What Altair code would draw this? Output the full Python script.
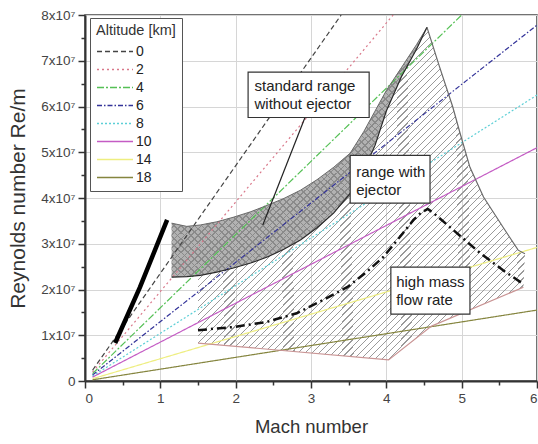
import altair as alt
import pandas as pd

FONT = "Liberation Sans"

# ---------------- data (Re/m in units of 1e7) ----------------
alt_km = ["0", "2", "4", "6", "8", "10", "14", "18"]
alt_m_start = [0.1, 0.1, 0.1, 0.1, 0.1, 0.1, 0.1, 0.1]
alt_re_start = [0.235, 0.195, 0.16, 0.13, 0.105, 0.085, 0.049, 0.026]
alt_m_end = [3.4, 4.09, 5.0, 6.0, 6.0, 6.0, 6.0, 6.0]
alt_re_end = [8.0, 8.0, 8.0, 7.78, 6.25, 5.1, 2.92, 1.55]

# standard range without ejector (grey band)
gray_m = [1.15, 1.35, 1.53, 1.75, 1.97, 2.2, 2.42, 2.64, 2.86, 3.08, 3.30, 3.52, 3.70, 3.85, 4.0, 4.2, 4.4, 4.54]
gray_top = [3.45, 3.38, 3.41, 3.48, 3.58, 3.70, 3.84, 3.99, 4.17, 4.40, 4.67, 4.98, 5.45, 5.90, 6.35, 6.85, 7.35, 7.73]
gray_bot = [2.27, 2.28, 2.31, 2.38, 2.47, 2.58, 2.71, 2.88, 3.08, 3.35, 3.67, 4.10, 4.60, 5.15, 5.90, 6.65, 7.25, 7.73]

# range with ejector (hatched)
ej_bottom_m = [1.5, 4.03, 4.6, 5.82]
ej_bottom_re = [0.83, 0.46, 1.2, 2.05]
ej_right_m = [5.84, 5.75, 5.55, 5.29, 5.11, 4.98, 4.88, 4.7, 4.54]
ej_right_re = [2.78, 2.86, 3.36, 4.02, 4.67, 5.41, 6.0, 6.9, 7.73]
ej_corner_m = [1.5]
ej_corner_re = [2.30]

# thick black line
black_m = [0.4, 0.73, 1.09]
black_re = [0.83, 2.05, 3.52]

# high mass flow rate (dash-dot)
hmf_m = [1.5, 1.97, 2.41, 2.81, 3.16, 3.48, 3.75, 3.96, 4.22, 4.36, 4.46, 4.55, 4.62, 4.89, 5.25, 5.55, 5.8]
hmf_re = [1.11, 1.18, 1.29, 1.48, 1.77, 2.05, 2.40, 2.71, 3.23, 3.52, 3.68, 3.76, 3.68, 3.30, 2.79, 2.42, 2.14]

# annotation boxes
box_m1 = [2.165, 3.52, 4.06]
box_m2 = [3.772, 4.58, 5.11]
box_re1 = [6.75, 4.93, 2.49]
box_re2 = [5.76, 3.89, 1.46]
text_lines = ["standard range", "without ejector", "range with", "ejector", "high mass", "flow rate"]
text_m = [2.25, 2.25, 3.60, 3.60, 4.13, 4.13]
text_re = [6.44, 6.05, 4.56, 4.17, 2.16, 1.77]
ptr_m = [2.92, 2.36]
ptr_re = [5.76, 3.41]

# ---------------- styles ----------------
alt_colors = ["#444444", "#d9788a", "#55c055", "#333399", "#5ccfd6", "#c45cc4", "#eeee80", "#85853f"]
alt_dash = [[5, 3], [2, 3], [7, 2, 2, 2], [5, 2, 1.5, 2], [2, 2], [1, 0], [1, 0], [1, 0]]


def stripes(n, frac, color, x1, y1, x2, y2):
    clear = "rgba(255,255,255,0)"
    stops = []
    for i in range(n):
        a = i / n
        b = (i + frac) / n
        c = (i + 1) / n
        stops += [
            alt.GradientStop(offset=a, color=color),
            alt.GradientStop(offset=b, color=color),
            alt.GradientStop(offset=b, color=clear),
            alt.GradientStop(offset=c, color=clear),
        ]
    return alt.Gradient(gradient="linear", stops=stops, x1=x1, y1=y1, x2=x2, y2=y2)


# ---------------- tables ----------------
rows = []
for k, lab in enumerate(alt_km):
    rows.append({"M": alt_m_start[k], "re": alt_re_start[k], "alt": lab, "o": 0})
    rows.append({"M": alt_m_end[k], "re": alt_re_end[k], "alt": lab, "o": 1})
df_alt = pd.DataFrame(rows)

gm = gray_m + gray_m[::-1]
gr = gray_top + gray_bot[::-1]
df_gray_poly = pd.DataFrame({"M": gm, "re": gr, "i": list(range(len(gm)))})
df_gray_top = pd.DataFrame({"M": gray_m, "re": gray_top})
df_gray_bot = pd.DataFrame({"M": gray_m, "re": gray_bot})

sel = [j for j in range(len(gray_m)) if gray_m[j] >= 1.5 and gray_m[j] < 4.54]
hm = ej_bottom_m + ej_right_m + [gray_m[j] for j in sel[::-1]] + ej_corner_m
hr = ej_bottom_re + ej_right_re + [gray_bot[j] for j in sel[::-1]] + ej_corner_re
df_hatch_poly = pd.DataFrame({"M": hm, "re": hr, "i": list(range(len(hm)))})
df_ej_bottom = pd.DataFrame({"M": ej_bottom_m, "re": ej_bottom_re, "i": list(range(len(ej_bottom_m)))})
df_ej_right = pd.DataFrame({"M": ej_right_m, "re": ej_right_re, "i": list(range(len(ej_right_m)))})

df_black = pd.DataFrame({"M": black_m, "re": black_re})
df_hmf = pd.DataFrame({"M": hmf_m, "re": hmf_re, "i": list(range(len(hmf_m)))})
df_box = pd.DataFrame({"m1": box_m1, "m2": box_m2, "r1": box_re1, "r2": box_re2})
df_text = pd.DataFrame({"M": text_m, "re": text_re, "t": text_lines})
df_ptr = pd.DataFrame({"m1": [ptr_m[0]], "m2": [ptr_m[1]], "r1": [ptr_re[0]], "r2": [ptr_re[1]]})

# ---------------- scales / axes ----------------
xs = alt.Scale(domain=[0, 6], nice=False)
ys = alt.Scale(domain=[0, 8], nice=False)

x_axis = alt.Axis(
    title="Mach number",
    values=[i * 0.5 for i in range(13)],
    labelExpr="datum.value % 1 === 0 ? '' + datum.value : ''",
    tickSize={"condition": {"test": "datum.value % 1 !== 0", "value": 4}, "value": 7},
    gridOpacity={"condition": {"test": "datum.value % 1 !== 0", "value": 0}, "value": 1},
    titlePadding=13, titleFontSize=18.5,
)
y_axis = alt.Axis(
    title="Reynolds number Re/m",
    values=[i * 0.5 for i in range(17)],
    labelExpr="datum.value === 0 ? '0' : (datum.value % 1 === 0 ? datum.value + 'x10\u2077' : '')",
    tickSize={"condition": {"test": "datum.value % 1 !== 0", "value": 4}, "value": 7},
    gridOpacity={"condition": {"test": "datum.value % 1 !== 0", "value": 0}, "value": 1},
    titlePadding=12, titleFontSize=21,
)


def X(field="M"):
    return alt.X(f"{field}:Q", scale=xs, axis=x_axis, title="Mach number")


def Y(field="re"):
    return alt.Y(f"{field}:Q", scale=ys, axis=y_axis, title="Reynolds number Re/m")


# ---------------- layers ----------------
hatch = alt.Chart(df_hatch_poly).mark_line(
    fill=stripes(95, 0.17, "#9a9a9a", 0, 0, 1, 1), strokeOpacity=0
).encode(x=X(), y=Y(), order="i:Q")

gray_base = alt.Chart(df_gray_poly).mark_line(fill="#b2b2b2", strokeOpacity=0).encode(
    x=X(), y=Y(), order="i:Q")
gray_h1 = alt.Chart(df_gray_poly).mark_line(
    fill=stripes(75, 0.25, "#8a8a8a", 0, 0, 1, 1), strokeOpacity=0
).encode(x=X(), y=Y(), order="i:Q")
gray_h2 = alt.Chart(df_gray_poly).mark_line(
    fill=stripes(75, 0.25, "#8a8a8a", 0, 1, 1, 0), strokeOpacity=0
).encode(x=X(), y=Y(), order="i:Q")

leg = dict(
    title="Altitude [km]", orient="none", legendX=5, legendY=3,
    symbolType="stroke", symbolSize=1296, symbolStrokeWidth=1.5,
    clipHeight=14, rowPadding=4, labelFontSize=14, titleFontSize=14.5,
    titleFontWeight="normal", titleColor="#333", labelColor="#222",
    labelFont=FONT, titleFont=FONT, fillColor="white", strokeColor="#555",
    padding=6, labelOffset=2, titlePadding=6,
)
alt_lines = alt.Chart(df_alt).mark_line(strokeWidth=1.2, clip=True).encode(
    x=X(), y=Y(), order="o:Q",
    color=alt.Color("alt:N", scale=alt.Scale(domain=alt_km, range=alt_colors), legend=alt.Legend(**leg)),
    strokeDash=alt.StrokeDash("alt:N", scale=alt.Scale(domain=alt_km, range=alt_dash), legend=alt.Legend(**leg)),
)

gray_top_line = alt.Chart(df_gray_top).mark_line(color="#6a6a6a", strokeWidth=1).encode(x=X(), y=Y())
gray_bot_line = alt.Chart(df_gray_bot).mark_line(color="#2a2a2a", strokeWidth=1.2).encode(x=X(), y=Y())
ej_bottom_line = alt.Chart(df_ej_bottom).mark_line(color="#c99494", strokeWidth=1.2).encode(
    x=X(), y=Y(), order="i:Q")
ej_right_line = alt.Chart(df_ej_right).mark_line(color="#6a6a6a", strokeWidth=1.2).encode(
    x=X(), y=Y(), order="i:Q")

black_line = alt.Chart(df_black).mark_line(color="#000", strokeWidth=4.5, strokeCap="butt").encode(
    x=X(), y=Y())
hmf_line = alt.Chart(df_hmf).mark_line(color="#111", strokeWidth=2.5, strokeDash=[9, 4, 2, 4]).encode(
    x=X(), y=Y(), order="i:Q")

ptr = alt.Chart(df_ptr).mark_rule(color="#222", strokeWidth=1.2).encode(
    x=X("m1"), x2="m2:Q", y=Y("r1"), y2="r2:Q")
boxes = alt.Chart(df_box).mark_rect(fill="white", stroke="#333", strokeWidth=1.2).encode(
    x=X("m1"), x2="m2:Q", y=Y("r1"), y2="r2:Q")
texts = alt.Chart(df_text).mark_text(
    align="left", baseline="middle", fontSize=15, font=FONT, color="#222"
).encode(x=X(), y=Y(), text="t:N")

chart = alt.layer(
    hatch, gray_base, gray_h1, gray_h2, alt_lines,
    gray_top_line, gray_bot_line, ej_bottom_line, ej_right_line,
    black_line, hmf_line, ptr, boxes, texts,
).properties(
    width=452, height=366,
    padding={"left": 85, "top": 15, "right": 1, "bottom": 63},
    autosize=alt.AutoSizeParams(type="none"),
    background="white",
).configure_view(
    stroke="#444", strokeWidth=1.5
).configure_axis(
    labelFont=FONT, titleFont=FONT, labelFontSize=13.5,
    titleFontWeight="normal", titleColor="#333", labelColor="#444",
    domainColor="#333", domainWidth=2, tickColor="#333", tickWidth=1.5,
    gridColor="#d6d6d6", gridWidth=1, labelPadding=3,
)

chart.save("out.html", embed_options={"renderer": "svg", "actions": False})
